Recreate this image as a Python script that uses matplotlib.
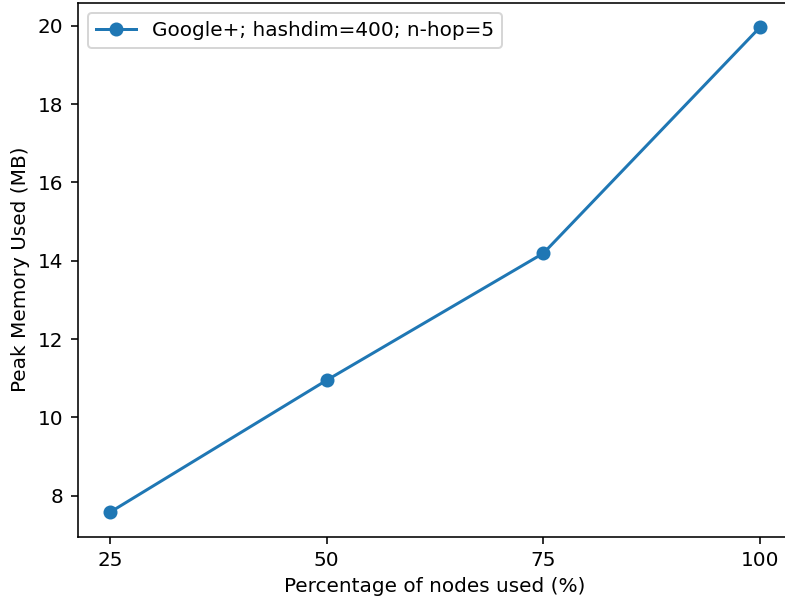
import matplotlib
matplotlib.use("Agg")
import matplotlib.pyplot as plt

percent = [25, 50, 75, 100]
memory_mb = [7.58, 10.95, 14.19, 19.96]
label = "Google+; hashdim=400; n-hop=5"

DPI = 144
fig = plt.figure(figsize=(785/DPI, 602/DPI), dpi=DPI)
ax = fig.add_axes([77.5/785, 1-536.5/602, (792.5-77.5)/785, (536.5-3)/602])
ax.plot(percent, memory_mb, marker='o', color='#1f77b4', label=label)
ax.set_xticks(percent)
ax.set_xlabel("Percentage of nodes used (%)")
ax.set_ylabel("Peak Memory Used (MB)")
ax.legend(loc='upper left')
fig.savefig("out.png", dpi=DPI)
